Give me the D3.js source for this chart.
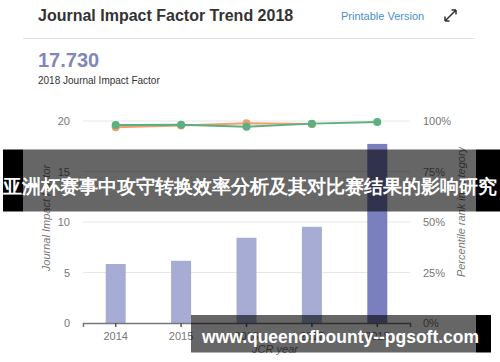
<!DOCTYPE html>
<html>
<head>
<meta charset="utf-8">
<script src="https://cdn.jsdelivr.net/npm/d3@7"></script>
<style>
body{margin:0;background:#fff;}
text{font-family:"Liberation Sans",Arial,sans-serif;}
</style>
</head>
<body>
<svg id="chart" width="500" height="362"></svg>
<script>
var years=["2014","2015","2016","2017","2018"]
var impactFactor=[5.84,6.16,8.44,9.52,17.73]
var rankGreen=[98.0,98.2,97.2,98.7,99.5]
var rankOrange=[96.9,97.8,98.9,98.5]
var leftTicks=[0,5,10,15,20]
var rightTicks=[0,25,50,75,100]

var svg=d3.select("#chart")

// header
svg.append("text")
.attr("x",38).attr("y",21)
.attr("font-size",16).attr("font-weight","bold").attr("fill","#333")
.text("Journal Impact Factor Trend 2018")

svg.append("text")
.attr("x",341).attr("y",20)
.attr("font-size",11).attr("fill","#4a8fc9")
.text("Printable Version")

svg.append("path")
.attr("d","M445,21L456,10M445,21l0,-4.5M445,21l4.5,0M456,10l0,4.5M456,10l-4.5,0")
.attr("stroke","#333").attr("stroke-width",1.5).attr("fill","none")

svg.append("line")
.attr("x1",23).attr("x2",475).attr("y1",38.5).attr("y2",38.5)
.attr("stroke","#e3e3e3")

svg.append("text")
.attr("x",38).attr("y",67)
.attr("font-size",20).attr("font-weight","bold").attr("fill","#8087b9")
.text("17.730")

svg.append("text")
.attr("x",38).attr("y",83.5)
.attr("font-size",10).attr("fill","#333")
.text("2018 Journal Impact Factor")

// chart
var x=d3.scaleBand().domain(years).range([83,410]).paddingInner(0).paddingOuter(0)
var y=d3.scaleLinear().domain([0,20]).range([323,121])
var yr=d3.scaleLinear().domain([0,100]).range([323,121])

svg.append("g")
.selectAll("line")
.data(leftTicks.filter(d=>d>0))
.enter()
.append("line")
.attr("x1",83).attr("x2",410)
.attr("y1",d=>y(d)).attr("y2",d=>y(d))
.attr("stroke","#e6e6e6")

svg.append("g")
.selectAll("text")
.data(leftTicks)
.enter()
.append("text")
.attr("x",70).attr("y",d=>y(d)+4)
.attr("text-anchor","end").attr("font-size",11).attr("fill","#777")
.text(d=>d)

svg.append("g")
.selectAll("text")
.data(rightTicks)
.enter()
.append("text")
.attr("x",423).attr("y",d=>yr(d)+4)
.attr("font-size",11).attr("fill","#777")
.text(d=>d+"%")

svg.append("g")
.selectAll("rect")
.data(impactFactor)
.enter()
.append("rect")
.attr("x",(d,i)=>x(years[i])+x.bandwidth()/2-10)
.attr("width",20)
.attr("y",d=>y(d))
.attr("height",d=>y(0)-y(d))
.attr("fill",(d,i)=>i==4?"#7a80bd":"#a6acd4")

var xAxis=svg.append("g")
.attr("transform","translate(0,323)")
.call(d3.axisBottom(x).tickSize(4).tickPadding(5))
xAxis.select(".domain").attr("stroke","#777").attr("stroke-width",1.5)
xAxis.selectAll(".tick line").attr("stroke","#555").attr("stroke-width",1.5)
xAxis.selectAll(".tick text").attr("font-size",11).attr("fill","#777")
.attr("font-family","Liberation Sans, Arial, sans-serif")

var line=d3.line()
.x((d,i)=>x(years[i])+x.bandwidth()/2)
.y(d=>yr(d))

svg.append("path").datum(rankOrange)
.attr("d",line).attr("fill","none").attr("stroke","#eea06e").attr("stroke-width",2)
svg.append("g").selectAll("circle").data(rankOrange).enter().append("circle")
.attr("cx",(d,i)=>x(years[i])+x.bandwidth()/2).attr("cy",d=>yr(d)).attr("r",4)
.attr("fill","#eea06e")

svg.append("path").datum(rankGreen)
.attr("d",line).attr("fill","none").attr("stroke","#5caf80").attr("stroke-width",2)
svg.append("g").selectAll("circle").data(rankGreen).enter().append("circle")
.attr("cx",(d,i)=>x(years[i])+x.bandwidth()/2).attr("cy",d=>yr(d)).attr("r",4)
.attr("fill","#5caf80")

svg.append("text")
.attr("transform","translate(50,218) rotate(-90)")
.attr("text-anchor","middle").attr("font-size",11).attr("font-style","italic").attr("fill","#777")
.text("Journal Impact Factor")

svg.append("text")
.attr("transform","translate(465,212) rotate(-90)")
.attr("text-anchor","middle").attr("font-size",11).attr("font-style","italic").attr("fill","#777")
.text("Percentile rank in category")

svg.append("text")
.attr("x",275).attr("y",353)
.attr("text-anchor","middle").attr("font-size",11).attr("font-style","italic").attr("fill","#777")
.text("JCR year")

// overlay banners
svg.append("rect").attr("x",3).attr("y",149.5).attr("width",20).attr("height",62).attr("fill","#000")
svg.append("rect").attr("x",476).attr("y",149.5).attr("width",24).attr("height",62).attr("fill","#000")
svg.append("rect").attr("x",23).attr("y",149.5).attr("width",453).attr("height",62).attr("fill","#000").attr("opacity",0.6)
svg.append("text")
.attr("x",3).attr("y",193)
.attr("font-family","Noto Sans CJK SC").attr("font-size",19).attr("font-weight","bold").attr("fill","#fff")
.attr("textLength",494).attr("lengthAdjust","spacingAndGlyphs")
.text("亚洲杯赛事中攻守转换效率分析及其对比赛结果的影响研究")

svg.append("rect").attr("x",476).attr("y",315).attr("width",15).attr("height",37.5).attr("fill","#000")
svg.append("rect").attr("x",191).attr("y",315).attr("width",285).attr("height",37.5).attr("fill","#000").attr("opacity",0.6)
svg.append("text")
.attr("x",202).attr("y",342.5)
.attr("font-family","Open Sans").attr("font-size",19).attr("font-weight","bold").attr("fill","#fff")
.attr("textLength",277).attr("lengthAdjust","spacingAndGlyphs")
.text("www.queenofbounty--pgsoft.com")
</script>
</body>
</html>
